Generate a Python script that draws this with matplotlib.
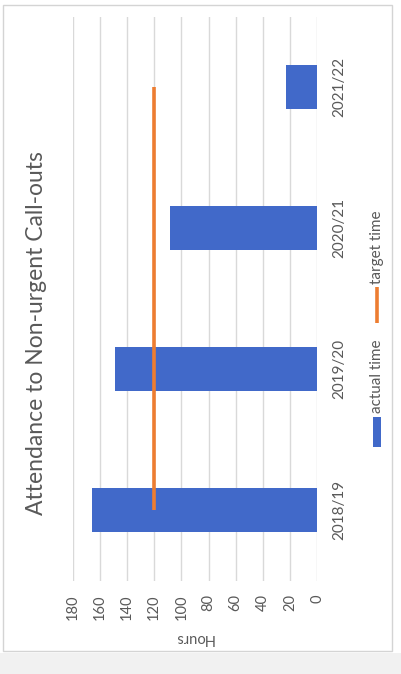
import matplotlib
matplotlib.use("Agg")
import matplotlib.pyplot as plt
from matplotlib.patches import Rectangle
from matplotlib.lines import Line2D

# Chart data
categories = ["2018/19", "2019/20", "2020/21", "2021/22"]
actual_time = [166, 149, 108, 23]
target_time = [120, 120, 120, 120]
hour_ticks = [0, 20, 40, 60, 80, 100, 120, 140, 160, 180]
title = "Attendance to Non-urgent Call-outs"
value_label = "Hours"
series_names = ["actual time", "target time"]

BLUE = "#4169C9"
ORANGE = "#ED7D31"
TEXT = "#595959"
GRID = "#D9D9D9"
FONT = ["Lato", "DejaVu Sans"]

W, H = 401, 674
DPI = 100
fig = plt.figure(figsize=(W / DPI, H / DPI), dpi=DPI)
fig.patch.set_facecolor("white")


def fx(x):
    return x / W


def fy(y):
    return 1 - y / H


# outer frame and lower strip
fig.patches.append(Rectangle((fx(3), fy(651)), fx(392) - fx(3), fy(5) - fy(651),
                             transform=fig.transFigure, fill=False,
                             edgecolor="#D4D4D4", lw=1.0))
fig.patches.append(Rectangle((0, 0), 1, fy(653), transform=fig.transFigure,
                             facecolor="#F1F1F1", edgecolor="none"))

# plot area (the whole chart is turned a quarter turn)
left, right, top, bottom = 72.5, 317.3, 16.5, 580.5
ax = fig.add_axes([fx(left), fy(bottom), fx(right) - fx(left), fy(top) - fy(bottom)])
ax.set_facecolor("none")

pos = list(range(len(categories)))
ax.barh(pos, actual_time, height=0.31, color=BLUE, zorder=2)
ax.plot(target_time, pos, color=ORANGE, lw=2.6, solid_capstyle="butt", zorder=3)

ax.set_xlim(180, 0)
ax.set_ylim(-0.5, len(categories) - 0.5)
ax.set_xticks(hour_ticks)
ax.set_xticklabels([str(t) for t in hour_ticks], rotation=90, color=TEXT,
                   fontsize=10.5, family=FONT)
ax.set_yticks(pos)
ax.set_yticklabels(categories, rotation=90, color=TEXT, fontsize=11, family=FONT,
                   va="center", ha="left")
ax.yaxis.tick_right()
ax.tick_params(axis="x", length=0, pad=10)
ax.tick_params(axis="y", length=0, pad=10.5)
ax.grid(axis="x", color=GRID, lw=1.0, zorder=0)
ax.grid(axis="y", visible=False)
for s in ax.spines.values():
    s.set_visible(False)

# title and value axis label
fig.text(fx(37), fy(333), title, rotation=90, ha="center", va="center",
         color=TEXT, fontsize=16.5, family=FONT)
fig.text(fx(194), fy(638), value_label, rotation=180, ha="center", va="center",
         color=TEXT, fontsize=10.5, family=FONT)

# legend
fig.patches.append(Rectangle((fx(372.5), fy(447)), fx(380.5) - fx(372.5), fy(417) - fy(447),
                             transform=fig.transFigure, facecolor=BLUE, edgecolor="none"))
fig.text(fx(377), fy(413), series_names[0], rotation=90, ha="center", va="bottom",
         color=TEXT, fontsize=11, family=FONT)
fig.lines.append(Line2D([fx(377), fx(377)], [fy(323), fy(287)], transform=fig.transFigure,
                        color=ORANGE, lw=2.6, solid_capstyle="butt"))
fig.text(fx(377), fy(284), series_names[1], rotation=90, ha="center", va="bottom",
         color=TEXT, fontsize=11, family=FONT)

fig.savefig("out.png", dpi=DPI)
